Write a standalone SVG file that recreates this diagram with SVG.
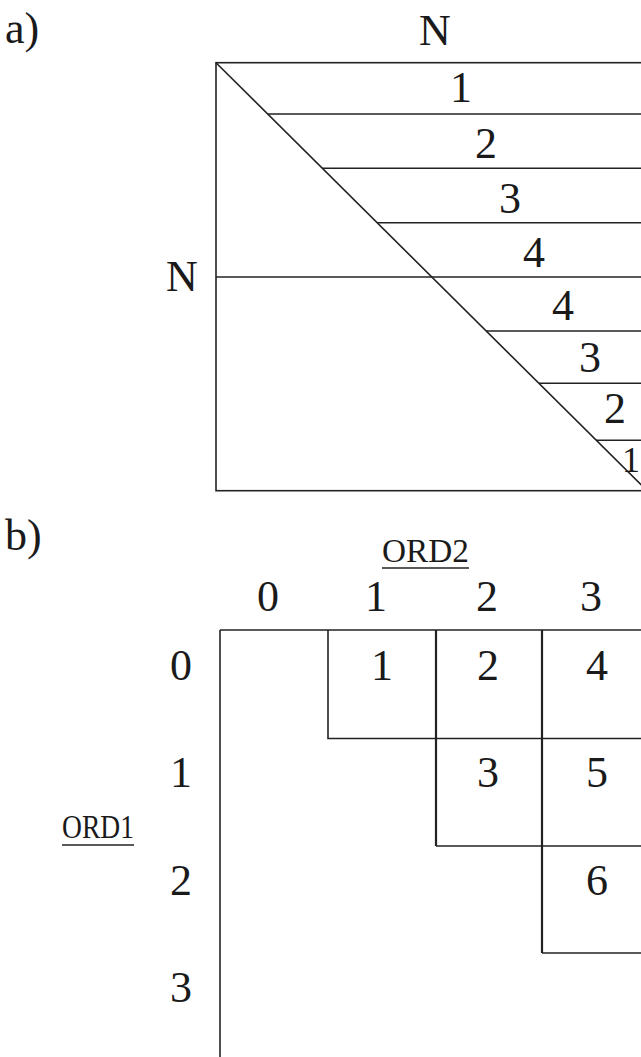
<svg xmlns="http://www.w3.org/2000/svg" width="641" height="1057" viewBox="0 0 641 1057">
<style>
.t{font-family:"Liberation Serif","Times New Roman",serif;font-size:44px;fill:#1a1a1a}
.s{font-size:34px}
.c{text-anchor:middle}
.ln{stroke:#222;stroke-width:1.6;fill:none}
.lt{stroke:#222;stroke-width:2.2;fill:none}
</style>
<rect width="641" height="1057" fill="#fff"/>
<g id="partA">
  <text class="t" x="5" y="43">a)</text>
  <text class="t c" x="435" y="45">N</text>
  <text class="t" x="166" y="291">N</text>
  <g id="a-box">
    <rect class="ln" x="216" y="62.7" width="460" height="428"/>
  </g>
  <g id="a-lines">
    <line class="ln" x1="216" y1="62.7" x2="647" y2="490.7"/>
    <line class="ln" x1="268" y1="114" x2="641" y2="114"/>
    <line class="ln" x1="322" y1="168.3" x2="641" y2="168.3"/>
    <line class="ln" x1="377" y1="222.7" x2="641" y2="222.7"/>
    <line class="ln" x1="216" y1="277" x2="641" y2="277"/>
    <line class="ln" x1="486" y1="331" x2="641" y2="331"/>
    <line class="ln" x1="539" y1="383.3" x2="641" y2="383.3"/>
    <line class="ln" x1="596" y1="440.3" x2="641" y2="440.3"/>
  </g>
  <g id="a-labels">
    <text class="t c" x="461" y="102">1</text>
    <text class="t c" x="486" y="158">2</text>
    <text class="t c" x="510" y="213">3</text>
    <text class="t c" x="534" y="267">4</text>
    <text class="t c" x="563" y="320">4</text>
    <text class="t c" x="590" y="372">3</text>
    <text class="t c" x="615" y="423">2</text>
    <text class="t" x="640" y="472" style="font-size:36px;text-anchor:end">1</text>
  </g>
</g>
<g id="partB">
  <text class="t" x="5" y="550">b)</text>
  <text class="t s" x="382" y="562" textLength="87" lengthAdjust="spacingAndGlyphs">ORD2</text>
  <line class="ln" x1="382" y1="568" x2="469" y2="568"/>
  <text class="t s" x="62" y="838" textLength="72" lengthAdjust="spacingAndGlyphs">ORD1</text>
  <line class="ln" x1="62" y1="845" x2="134" y2="845"/>
  <g id="b-collabels">
    <text class="t c" x="268" y="611">0</text>
    <text class="t c" x="376" y="611">1</text>
    <text class="t c" x="487" y="611">2</text>
    <text class="t c" x="591" y="611">3</text>
  </g>
  <g id="b-rowlabels">
    <text class="t c" x="181" y="680">0</text>
    <text class="t c" x="181" y="787">1</text>
    <text class="t c" x="181" y="895">2</text>
    <text class="t c" x="181" y="1002">3</text>
  </g>
  <g id="b-grid">
    <line class="ln" x1="220" y1="630" x2="641" y2="630"/>
    <line class="ln" x1="220" y1="630" x2="220" y2="1057"/>
  </g>
  <g id="cell-1">
    <path class="ln" d="M328 630 V738.5 H436"/>
    <text class="t c" x="382" y="680">1</text>
  </g>
  <g id="cell-2">
    <path class="lt" d="M436 630 V846"/>
    <line class="ln" x1="436" y1="738.5" x2="542" y2="738.5"/>
    <text class="t c" x="488" y="680">2</text>
  </g>
  <g id="cell-4">
    <path class="lt" d="M542 630 V953"/>
    <line class="ln" x1="542" y1="738.5" x2="641" y2="738.5"/>
    <text class="t c" x="597" y="680">4</text>
  </g>
  <g id="cell-3">
    <line class="ln" x1="436" y1="846" x2="542" y2="846"/>
    <text class="t c" x="488" y="787">3</text>
  </g>
  <g id="cell-5">
    <line class="ln" x1="542" y1="846" x2="641" y2="846"/>
    <text class="t c" x="597" y="787">5</text>
  </g>
  <g id="cell-6">
    <line class="ln" x1="542" y1="953" x2="641" y2="953"/>
    <text class="t c" x="597" y="895">6</text>
  </g>
</g>
</svg>
